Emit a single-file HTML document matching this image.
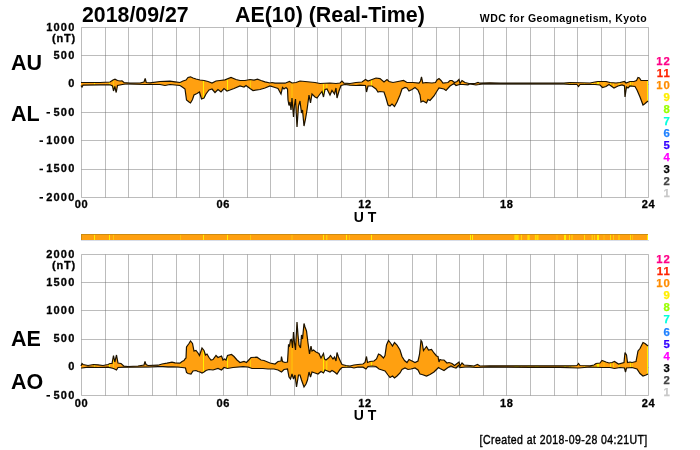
<!DOCTYPE html><html><head><meta charset="utf-8"><style>html,body{margin:0;padding:0;background:#fff;width:700px;height:450px;overflow:hidden}svg{position:absolute;left:0;top:0;will-change:transform}</style></head><body>
<svg width="700" height="450" viewBox="0 0 700 450">
<rect width="700" height="450" fill="#fff"/>
<path d="M81.5 27.5V197.5M105.5 27.5V197.5M128.5 27.5V197.5M152.5 27.5V197.5M176.5 27.5V197.5M199.5 27.5V197.5M223.5 27.5V197.5M247.5 27.5V197.5M270.5 27.5V197.5M294.5 27.5V197.5M317.5 27.5V197.5M341.5 27.5V197.5M365.5 27.5V197.5M388.5 27.5V197.5M412.5 27.5V197.5M436.5 27.5V197.5M459.5 27.5V197.5M483.5 27.5V197.5M506.5 27.5V197.5M530.5 27.5V197.5M554.5 27.5V197.5M577.5 27.5V197.5M601.5 27.5V197.5M625.5 27.5V197.5M648.5 27.5V197.5M81.5 27.5H648.5M81.5 55.5H648.5M81.5 84.5H648.5M81.5 112.5H648.5M81.5 140.5H648.5M81.5 169.5H648.5M81.5 197.5H648.5" stroke="#6a6a6a" stroke-opacity="0.45" stroke-width="1" fill="none"/>
<path d="M81.5 254.5V395.5M105.5 254.5V395.5M128.5 254.5V395.5M152.5 254.5V395.5M176.5 254.5V395.5M199.5 254.5V395.5M223.5 254.5V395.5M247.5 254.5V395.5M270.5 254.5V395.5M294.5 254.5V395.5M317.5 254.5V395.5M341.5 254.5V395.5M365.5 254.5V395.5M388.5 254.5V395.5M412.5 254.5V395.5M436.5 254.5V395.5M459.5 254.5V395.5M483.5 254.5V395.5M506.5 254.5V395.5M530.5 254.5V395.5M554.5 254.5V395.5M577.5 254.5V395.5M601.5 254.5V395.5M625.5 254.5V395.5M648.5 254.5V395.5M81.5 254.5H648.5M81.5 282.5H648.5M81.5 310.5H648.5M81.5 339.5H648.5M81.5 367.5H648.5M81.5 395.5H648.5" stroke="#6a6a6a" stroke-opacity="0.45" stroke-width="1" fill="none"/>
<defs>
<clipPath id="c1"><path d="M81,82.5 82,82.5 100,82.5 110,82 113,80 115,79.2 117.5,80.5 120,81 122,80.8 124,82.5 130,83.2 140,83 144,82 145.2,78.5 146.2,82.5 150,82.8 160,81.5 170,81.2 175,81.8 180,82.5 183,81 186,80 188,77.5 190.5,76.8 193,78 196,79 200,80 204,80.5 208,81.5 212,83 216,81 220,80.5 225,79.8 231,77.5 236,79.5 240,80.5 245,80.5 250,79.5 254,80.2 257.5,79.2 261,80.5 265,81.8 270,83 272,82.5 275,83.2 280,83.2 285,83.2 289.5,81.5 292,83 296,82.5 300,81 305,81.5 310,82 315,82.5 320,83.5 330,83 336,83.5 340,83 342,81 344,83.2 350,83.5 356,82.5 362,82 365.5,79.5 368,81 372,79.5 376,78 380,78.6 384,82 387,79.5 389,81.5 393,82.5 398,81.5 403.5,80.5 407,82.5 413,82.5 419,83 420.5,81 421.5,76.8 422.8,83 426,82.5 432,83 435.5,82.5 437,80 439,78.5 441,80.5 443,83.2 448,82.5 450,80.5 452,80.5 454.5,82.5 457,81.5 459,79.5 460,83.5 462,80.5 465,82.5 469,83.5 475,83.5 478,82.5 480,83.2 490,82.8 500,83.2 520,83.2 564,83 570,82.5 590,83 595,82 598,81.5 602,81.5 606,81.5 610,82.5 616,83 620,82.5 624.5,81.5 626,83 630,81.5 634,81.5 636.5,80.5 638,77.5 639.5,78 641,80.5 645,80.5 648,80.5 L648,101 644.5,104 643,105 640,97 637,90 635,86.5 630,86 628,88 626.5,87 625,97 624.5,86 622,85 618,86 614,88 609,84.5 606,86.5 602.5,87.5 600,85 595,84.5 590,84.5 580,84.5 578.5,86.5 577,84.5 570,84.5 564,83.8 520,83.8 482,83.8 479,84.5 476,85 470,83.8 468,84.8 463,84.5 459.5,84.5 456,85.5 454,83.5 450,86 446,90.5 444,89 439,88 437,91 434,96 430,100.5 428,99.5 426.5,103 423,101 421,102 420,95 418,90 415,87.5 412,89.5 409,91 407,88 405,87.5 402,89 400,95 397,102 394.5,106.5 392,104 390,106 388,105 386,98 384,92 380,91.5 378,92 376,89 372,86 368,86 366.5,92 365.5,85.5 360,85.2 356,85.5 350,85.2 345,84.5 341,85.5 339,91 337,98 336,88 334.5,94 332,90.5 330,95 327,89 325,89.5 323.5,97 322,91.5 320,94 317,98 315,97 312,94 310.5,103 309,95 307,110 305.5,119 304,126 302.5,110 301.5,113 300,101 298.5,106 297,127 295.5,99 294.5,105 293.5,117 292,98 291,110 290,102 289,105.5 288,100 287.5,89 286,87.5 284,89 282.5,87.5 281,94 278,88.5 275,87.5 270,86 265,88 260,89.5 253,90.5 250,88.5 246,85.5 244,87 240,86 234,88.5 230,90 227,91 224,88.5 221,92 218,89.5 215,92.5 212,89 209,90 206,94 204,98 201.5,99 199.5,92 197,93.5 194,95 192.5,99.5 190.5,103 189,102 186.5,100 185,89 183,87.5 180,85.5 170,84.5 165,85.5 160,84.5 145,84.5 130,84 125,84 117.5,85.5 116.2,92.5 114.8,86.5 113.5,91 112.5,86 110,84.8 100,84.8 83,85.2 82,87 81,85.5Z"/></clipPath>
<clipPath id="c2"><path d="M81,366 82,363.5 83,364.5 88,365.5 93.5,364.5 98,364.8 103,365.5 108,364.5 110,363.5 112,363.5 113.5,355.5 114.8,362 116.5,355 118,363 121,363.5 124,366.2 128,366.5 138,366 144,365 145,361.5 146,364.5 148,365.5 158,365.2 162,364 167,363.2 172,362.2 175,362.8 180,363.2 182,361.5 184,360.5 185,359 186,358 186.5,347 187.5,345.5 189,343.5 190.5,341 192.5,343.5 194,351 196,350.5 198,353 199.5,355.5 202,348 204,350.5 205.5,355 207,354 209,357.5 211,360 213,359.5 216,355.5 218,357.5 221.5,356 223,360 224.5,359 226,360 227.5,355.5 231.5,354.5 234,356.5 237,360 240,362.5 244,361.5 246.5,362.5 251,357.5 257,357.2 261,360 264,360.5 270,363 275,364 278,361.5 281,361 281.5,356.5 282.5,361.5 285,362.5 287.5,362 288,354 288.5,345 289.5,346 290.5,340 291.5,339.5 292.5,348 293.5,332 294.5,343 295.5,350 297,322 298,335 299,345 300.5,348 301.5,335 302.5,339 304,323.5 305,327 306.5,331 308,343 309.5,354 311,346 312,351 313.5,350 316,352 319,353.5 321,358 323.5,353.5 324.5,359 326,360 329,357.5 330.5,355.5 333,359 334.5,357 336,361 337,352.5 338.5,357 340.5,361.5 342,364.5 346,365.5 350,366 354,365 358,364.5 363,364 365,362.5 366.5,356.5 367.5,362.5 370,361.5 374,361 376.5,359 378.5,354 380.5,355 383.5,358 385,355.5 386.5,345 388.5,340.5 390.5,343 392.5,346 394.5,342.5 397,345 400,350 402,356.5 404.5,360.5 407,362.5 409,359.5 412,361 415,362.5 418,361 419.5,354.5 421,340.5 422,342 423.5,350.5 426.5,346.5 428.5,350 431.5,349.5 434,353 436.5,356 438,356.5 439,362 440,359.5 441.5,360 444,360 447,363 449,362.5 452,363.5 454.5,365.5 459,362 460,366 462,363 464,365 470,365.5 474,366 477.5,364.5 480,366 490,365.8 530,365.8 560,365.8 570,365.8 577,365.5 578.5,363.5 580,365.5 590,365.8 594,365 596,363.5 600,363 602,360.5 606,362 609,363 612,362.5 614.5,361.5 618.5,364 624,362.5 625,352.5 626.5,355 627.5,362.5 630,362 632,362.5 636,361.5 638,351 640,348.5 643,342.5 645,343.5 648,346 L648,374 646,375 643,376 640,373.5 637,369 632,367.5 626.5,368 625.5,372 624.5,368 620,367.5 614.5,368.5 610,367.5 602,367.5 590,367 578.5,368 560,367.3 530,367.3 490,366.8 476,367.5 470,366.8 465,367 460,367.5 458.5,365.5 456,368 454,367.5 451,366 448,367.5 444,370.5 440,368.5 438.5,367.5 436.5,369.5 434,372 430,374.5 426.5,376 422,374.5 420,374 418,370 415,368 411,369 408,369.5 405,368 402,369.5 400,373 397,376 394.5,378 392.5,376 390,377.5 388,375 385,371 382,370 379,369 376,366.5 372,366 368,366.5 366,369 363,367.2 358,367 354,368 350,367 342,367.5 340,369.5 337,374 334.5,372 332,370.5 330,372 325,370 323.5,373 321,371.5 318,374 315,373 312,372 310.5,377 309,372 307.5,380 306,384 304,387 301.5,380 300,375 298.5,375 296.5,387 295,375 293.5,379 292,374 290.5,379 289,377 287.5,369 284,369.5 281.5,372 278,370 274,369 268,369 263,368.5 258,368.5 252,368.5 248,367 243,366.5 238,367 233,367.5 227.5,368.5 224,367.5 221.5,370 218,368.5 213,370 209,369.5 206,370.5 204,372 202,373 200,372 198,371.5 196,370.5 193,371 191,374 188,373.5 186.5,372.5 185.5,368 182,367.5 178,367 173,366.8 168,366.8 163,366.5 158,366.5 148,367 124,367.2 118,367.5 116.5,370 113.5,368.5 108,367.2 98,367.5 88,367.2 82,368 81,368Z"/></clipPath>
</defs>
<path d="M81,82.5 82,82.5 100,82.5 110,82 113,80 115,79.2 117.5,80.5 120,81 122,80.8 124,82.5 130,83.2 140,83 144,82 145.2,78.5 146.2,82.5 150,82.8 160,81.5 170,81.2 175,81.8 180,82.5 183,81 186,80 188,77.5 190.5,76.8 193,78 196,79 200,80 204,80.5 208,81.5 212,83 216,81 220,80.5 225,79.8 231,77.5 236,79.5 240,80.5 245,80.5 250,79.5 254,80.2 257.5,79.2 261,80.5 265,81.8 270,83 272,82.5 275,83.2 280,83.2 285,83.2 289.5,81.5 292,83 296,82.5 300,81 305,81.5 310,82 315,82.5 320,83.5 330,83 336,83.5 340,83 342,81 344,83.2 350,83.5 356,82.5 362,82 365.5,79.5 368,81 372,79.5 376,78 380,78.6 384,82 387,79.5 389,81.5 393,82.5 398,81.5 403.5,80.5 407,82.5 413,82.5 419,83 420.5,81 421.5,76.8 422.8,83 426,82.5 432,83 435.5,82.5 437,80 439,78.5 441,80.5 443,83.2 448,82.5 450,80.5 452,80.5 454.5,82.5 457,81.5 459,79.5 460,83.5 462,80.5 465,82.5 469,83.5 475,83.5 478,82.5 480,83.2 490,82.8 500,83.2 520,83.2 564,83 570,82.5 590,83 595,82 598,81.5 602,81.5 606,81.5 610,82.5 616,83 620,82.5 624.5,81.5 626,83 630,81.5 634,81.5 636.5,80.5 638,77.5 639.5,78 641,80.5 645,80.5 648,80.5 L648,101 644.5,104 643,105 640,97 637,90 635,86.5 630,86 628,88 626.5,87 625,97 624.5,86 622,85 618,86 614,88 609,84.5 606,86.5 602.5,87.5 600,85 595,84.5 590,84.5 580,84.5 578.5,86.5 577,84.5 570,84.5 564,83.8 520,83.8 482,83.8 479,84.5 476,85 470,83.8 468,84.8 463,84.5 459.5,84.5 456,85.5 454,83.5 450,86 446,90.5 444,89 439,88 437,91 434,96 430,100.5 428,99.5 426.5,103 423,101 421,102 420,95 418,90 415,87.5 412,89.5 409,91 407,88 405,87.5 402,89 400,95 397,102 394.5,106.5 392,104 390,106 388,105 386,98 384,92 380,91.5 378,92 376,89 372,86 368,86 366.5,92 365.5,85.5 360,85.2 356,85.5 350,85.2 345,84.5 341,85.5 339,91 337,98 336,88 334.5,94 332,90.5 330,95 327,89 325,89.5 323.5,97 322,91.5 320,94 317,98 315,97 312,94 310.5,103 309,95 307,110 305.5,119 304,126 302.5,110 301.5,113 300,101 298.5,106 297,127 295.5,99 294.5,105 293.5,117 292,98 291,110 290,102 289,105.5 288,100 287.5,89 286,87.5 284,89 282.5,87.5 281,94 278,88.5 275,87.5 270,86 265,88 260,89.5 253,90.5 250,88.5 246,85.5 244,87 240,86 234,88.5 230,90 227,91 224,88.5 221,92 218,89.5 215,92.5 212,89 209,90 206,94 204,98 201.5,99 199.5,92 197,93.5 194,95 192.5,99.5 190.5,103 189,102 186.5,100 185,89 183,87.5 180,85.5 170,84.5 165,85.5 160,84.5 145,84.5 130,84 125,84 117.5,85.5 116.2,92.5 114.8,86.5 113.5,91 112.5,86 110,84.8 100,84.8 83,85.2 82,87 81,85.5Z" fill="#ffa010"/>
<g clip-path="url(#c1)"><rect x="94" y="60" width="1" height="80" fill="#fff000" opacity="1"/><rect x="109" y="60" width="1" height="80" fill="#fff000" opacity="1"/><rect x="113" y="60" width="1" height="80" fill="#fff000" opacity="0.5"/><rect x="180" y="60" width="1" height="80" fill="#fff000" opacity="0.4"/><rect x="203" y="60" width="1" height="80" fill="#fff000" opacity="1"/><rect x="227" y="60" width="1" height="80" fill="#fff000" opacity="1"/><rect x="250" y="60" width="1" height="80" fill="#fff000" opacity="0.5"/><rect x="291.5" y="60" width="1" height="80" fill="#fff000" opacity="0.5"/><rect x="323" y="60" width="1" height="80" fill="#fff000" opacity="1"/><rect x="326.3" y="60" width="1" height="80" fill="#fff000" opacity="0.8"/><rect x="346" y="60" width="1" height="80" fill="#fff000" opacity="1"/><rect x="349" y="60" width="1" height="80" fill="#fff000" opacity="0.4"/><rect x="371" y="60" width="1" height="80" fill="#fff000" opacity="1"/><rect x="470" y="60" width="1" height="80" fill="#fff000" opacity="1"/><rect x="472" y="60" width="1" height="80" fill="#fff000" opacity="1"/><rect x="514.5" y="60" width="1" height="80" fill="#fff000" opacity="1"/><rect x="515.5" y="60" width="1" height="80" fill="#fff000" opacity="1"/><rect x="516.5" y="60" width="1" height="80" fill="#fff000" opacity="1"/><rect x="517.5" y="60" width="1" height="80" fill="#fff000" opacity="1"/><rect x="520.9" y="60" width="1" height="80" fill="#fff000" opacity="0.8"/><rect x="527.5" y="60" width="1" height="80" fill="#fff000" opacity="1"/><rect x="528.5" y="60" width="1" height="80" fill="#fff000" opacity="1"/><rect x="534.9" y="60" width="1" height="80" fill="#fff000" opacity="0.8"/><rect x="536.5" y="60" width="1" height="80" fill="#fff000" opacity="1"/><rect x="537.5" y="60" width="1" height="80" fill="#fff000" opacity="0.8"/><rect x="556.5" y="60" width="1" height="80" fill="#fff000" opacity="0.4"/><rect x="564" y="60" width="1" height="80" fill="#fff000" opacity="1"/><rect x="565" y="60" width="1" height="80" fill="#fff000" opacity="1"/><rect x="569" y="60" width="1" height="80" fill="#fff000" opacity="0.8"/><rect x="571.5" y="60" width="1" height="80" fill="#fff000" opacity="0.8"/><rect x="584" y="60" width="1" height="80" fill="#fff000" opacity="0.8"/><rect x="591.7" y="60" width="1" height="80" fill="#fff000" opacity="0.8"/><rect x="594" y="60" width="1" height="80" fill="#fff000" opacity="0.6"/><rect x="597" y="60" width="1" height="80" fill="#fff000" opacity="1"/><rect x="598" y="60" width="1" height="80" fill="#fff000" opacity="1"/><rect x="603.5" y="60" width="1" height="80" fill="#fff000" opacity="0.4"/><rect x="610" y="60" width="1" height="80" fill="#fff000" opacity="0.8"/><rect x="613" y="60" width="1" height="80" fill="#fff000" opacity="0.6"/><rect x="618.5" y="60" width="1" height="80" fill="#fff000" opacity="0.8"/><rect x="630" y="60" width="1" height="80" fill="#fff000" opacity="0.8"/><rect x="632" y="60" width="1" height="80" fill="#fff000" opacity="0.4"/><rect x="647" y="60" width="1" height="80" fill="#fff000" opacity="1"/></g>
<polyline points="81,82.5 82,82.5 100,82.5 110,82 113,80 115,79.2 117.5,80.5 120,81 122,80.8 124,82.5 130,83.2 140,83 144,82 145.2,78.5 146.2,82.5 150,82.8 160,81.5 170,81.2 175,81.8 180,82.5 183,81 186,80 188,77.5 190.5,76.8 193,78 196,79 200,80 204,80.5 208,81.5 212,83 216,81 220,80.5 225,79.8 231,77.5 236,79.5 240,80.5 245,80.5 250,79.5 254,80.2 257.5,79.2 261,80.5 265,81.8 270,83 272,82.5 275,83.2 280,83.2 285,83.2 289.5,81.5 292,83 296,82.5 300,81 305,81.5 310,82 315,82.5 320,83.5 330,83 336,83.5 340,83 342,81 344,83.2 350,83.5 356,82.5 362,82 365.5,79.5 368,81 372,79.5 376,78 380,78.6 384,82 387,79.5 389,81.5 393,82.5 398,81.5 403.5,80.5 407,82.5 413,82.5 419,83 420.5,81 421.5,76.8 422.8,83 426,82.5 432,83 435.5,82.5 437,80 439,78.5 441,80.5 443,83.2 448,82.5 450,80.5 452,80.5 454.5,82.5 457,81.5 459,79.5 460,83.5 462,80.5 465,82.5 469,83.5 475,83.5 478,82.5 480,83.2 490,82.8 500,83.2 520,83.2 564,83 570,82.5 590,83 595,82 598,81.5 602,81.5 606,81.5 610,82.5 616,83 620,82.5 624.5,81.5 626,83 630,81.5 634,81.5 636.5,80.5 638,77.5 639.5,78 641,80.5 645,80.5 648,80.5" fill="none" stroke="#1c1200" stroke-width="1.2" stroke-linejoin="miter" stroke-miterlimit="3"/>
<polyline points="81,85.5 82,87 83,85.2 100,84.8 110,84.8 112.5,86 113.5,91 114.8,86.5 116.2,92.5 117.5,85.5 125,84 130,84 145,84.5 160,84.5 165,85.5 170,84.5 180,85.5 183,87.5 185,89 186.5,100 189,102 190.5,103 192.5,99.5 194,95 197,93.5 199.5,92 201.5,99 204,98 206,94 209,90 212,89 215,92.5 218,89.5 221,92 224,88.5 227,91 230,90 234,88.5 240,86 244,87 246,85.5 250,88.5 253,90.5 260,89.5 265,88 270,86 275,87.5 278,88.5 281,94 282.5,87.5 284,89 286,87.5 287.5,89 288,100 289,105.5 290,102 291,110 292,98 293.5,117 294.5,105 295.5,99 297,127 298.5,106 300,101 301.5,113 302.5,110 304,126 305.5,119 307,110 309,95 310.5,103 312,94 315,97 317,98 320,94 322,91.5 323.5,97 325,89.5 327,89 330,95 332,90.5 334.5,94 336,88 337,98 339,91 341,85.5 345,84.5 350,85.2 356,85.5 360,85.2 365.5,85.5 366.5,92 368,86 372,86 376,89 378,92 380,91.5 384,92 386,98 388,105 390,106 392,104 394.5,106.5 397,102 400,95 402,89 405,87.5 407,88 409,91 412,89.5 415,87.5 418,90 420,95 421,102 423,101 426.5,103 428,99.5 430,100.5 434,96 437,91 439,88 444,89 446,90.5 450,86 454,83.5 456,85.5 459.5,84.5 463,84.5 468,84.8 470,83.8 476,85 479,84.5 482,83.8 520,83.8 564,83.8 570,84.5 577,84.5 578.5,86.5 580,84.5 590,84.5 595,84.5 600,85 602.5,87.5 606,86.5 609,84.5 614,88 618,86 622,85 624.5,86 625,97 626.5,87 628,88 630,86 635,86.5 637,90 640,97 643,105 644.5,104 648,101" fill="none" stroke="#1c1200" stroke-width="1.2" stroke-linejoin="miter" stroke-miterlimit="3"/>
<path d="M81,366 82,363.5 83,364.5 88,365.5 93.5,364.5 98,364.8 103,365.5 108,364.5 110,363.5 112,363.5 113.5,355.5 114.8,362 116.5,355 118,363 121,363.5 124,366.2 128,366.5 138,366 144,365 145,361.5 146,364.5 148,365.5 158,365.2 162,364 167,363.2 172,362.2 175,362.8 180,363.2 182,361.5 184,360.5 185,359 186,358 186.5,347 187.5,345.5 189,343.5 190.5,341 192.5,343.5 194,351 196,350.5 198,353 199.5,355.5 202,348 204,350.5 205.5,355 207,354 209,357.5 211,360 213,359.5 216,355.5 218,357.5 221.5,356 223,360 224.5,359 226,360 227.5,355.5 231.5,354.5 234,356.5 237,360 240,362.5 244,361.5 246.5,362.5 251,357.5 257,357.2 261,360 264,360.5 270,363 275,364 278,361.5 281,361 281.5,356.5 282.5,361.5 285,362.5 287.5,362 288,354 288.5,345 289.5,346 290.5,340 291.5,339.5 292.5,348 293.5,332 294.5,343 295.5,350 297,322 298,335 299,345 300.5,348 301.5,335 302.5,339 304,323.5 305,327 306.5,331 308,343 309.5,354 311,346 312,351 313.5,350 316,352 319,353.5 321,358 323.5,353.5 324.5,359 326,360 329,357.5 330.5,355.5 333,359 334.5,357 336,361 337,352.5 338.5,357 340.5,361.5 342,364.5 346,365.5 350,366 354,365 358,364.5 363,364 365,362.5 366.5,356.5 367.5,362.5 370,361.5 374,361 376.5,359 378.5,354 380.5,355 383.5,358 385,355.5 386.5,345 388.5,340.5 390.5,343 392.5,346 394.5,342.5 397,345 400,350 402,356.5 404.5,360.5 407,362.5 409,359.5 412,361 415,362.5 418,361 419.5,354.5 421,340.5 422,342 423.5,350.5 426.5,346.5 428.5,350 431.5,349.5 434,353 436.5,356 438,356.5 439,362 440,359.5 441.5,360 444,360 447,363 449,362.5 452,363.5 454.5,365.5 459,362 460,366 462,363 464,365 470,365.5 474,366 477.5,364.5 480,366 490,365.8 530,365.8 560,365.8 570,365.8 577,365.5 578.5,363.5 580,365.5 590,365.8 594,365 596,363.5 600,363 602,360.5 606,362 609,363 612,362.5 614.5,361.5 618.5,364 624,362.5 625,352.5 626.5,355 627.5,362.5 630,362 632,362.5 636,361.5 638,351 640,348.5 643,342.5 645,343.5 648,346 L648,374 646,375 643,376 640,373.5 637,369 632,367.5 626.5,368 625.5,372 624.5,368 620,367.5 614.5,368.5 610,367.5 602,367.5 590,367 578.5,368 560,367.3 530,367.3 490,366.8 476,367.5 470,366.8 465,367 460,367.5 458.5,365.5 456,368 454,367.5 451,366 448,367.5 444,370.5 440,368.5 438.5,367.5 436.5,369.5 434,372 430,374.5 426.5,376 422,374.5 420,374 418,370 415,368 411,369 408,369.5 405,368 402,369.5 400,373 397,376 394.5,378 392.5,376 390,377.5 388,375 385,371 382,370 379,369 376,366.5 372,366 368,366.5 366,369 363,367.2 358,367 354,368 350,367 342,367.5 340,369.5 337,374 334.5,372 332,370.5 330,372 325,370 323.5,373 321,371.5 318,374 315,373 312,372 310.5,377 309,372 307.5,380 306,384 304,387 301.5,380 300,375 298.5,375 296.5,387 295,375 293.5,379 292,374 290.5,379 289,377 287.5,369 284,369.5 281.5,372 278,370 274,369 268,369 263,368.5 258,368.5 252,368.5 248,367 243,366.5 238,367 233,367.5 227.5,368.5 224,367.5 221.5,370 218,368.5 213,370 209,369.5 206,370.5 204,372 202,373 200,372 198,371.5 196,370.5 193,371 191,374 188,373.5 186.5,372.5 185.5,368 182,367.5 178,367 173,366.8 168,366.8 163,366.5 158,366.5 148,367 124,367.2 118,367.5 116.5,370 113.5,368.5 108,367.2 98,367.5 88,367.2 82,368 81,368Z" fill="#ffa010"/>
<g clip-path="url(#c2)"><rect x="94" y="310" width="1" height="90" fill="#fff000" opacity="1"/><rect x="109" y="310" width="1" height="90" fill="#fff000" opacity="1"/><rect x="113" y="310" width="1" height="90" fill="#fff000" opacity="0.5"/><rect x="180" y="310" width="1" height="90" fill="#fff000" opacity="0.4"/><rect x="203" y="310" width="1" height="90" fill="#fff000" opacity="1"/><rect x="227" y="310" width="1" height="90" fill="#fff000" opacity="1"/><rect x="250" y="310" width="1" height="90" fill="#fff000" opacity="0.5"/><rect x="291.5" y="310" width="1" height="90" fill="#fff000" opacity="0.5"/><rect x="323" y="310" width="1" height="90" fill="#fff000" opacity="1"/><rect x="326.3" y="310" width="1" height="90" fill="#fff000" opacity="0.8"/><rect x="346" y="310" width="1" height="90" fill="#fff000" opacity="1"/><rect x="349" y="310" width="1" height="90" fill="#fff000" opacity="0.4"/><rect x="371" y="310" width="1" height="90" fill="#fff000" opacity="1"/><rect x="470" y="310" width="1" height="90" fill="#fff000" opacity="1"/><rect x="472" y="310" width="1" height="90" fill="#fff000" opacity="1"/><rect x="514.5" y="310" width="1" height="90" fill="#fff000" opacity="1"/><rect x="515.5" y="310" width="1" height="90" fill="#fff000" opacity="1"/><rect x="516.5" y="310" width="1" height="90" fill="#fff000" opacity="1"/><rect x="517.5" y="310" width="1" height="90" fill="#fff000" opacity="1"/><rect x="520.9" y="310" width="1" height="90" fill="#fff000" opacity="0.8"/><rect x="527.5" y="310" width="1" height="90" fill="#fff000" opacity="1"/><rect x="528.5" y="310" width="1" height="90" fill="#fff000" opacity="1"/><rect x="534.9" y="310" width="1" height="90" fill="#fff000" opacity="0.8"/><rect x="536.5" y="310" width="1" height="90" fill="#fff000" opacity="1"/><rect x="537.5" y="310" width="1" height="90" fill="#fff000" opacity="0.8"/><rect x="556.5" y="310" width="1" height="90" fill="#fff000" opacity="0.4"/><rect x="564" y="310" width="1" height="90" fill="#fff000" opacity="1"/><rect x="565" y="310" width="1" height="90" fill="#fff000" opacity="1"/><rect x="569" y="310" width="1" height="90" fill="#fff000" opacity="0.8"/><rect x="571.5" y="310" width="1" height="90" fill="#fff000" opacity="0.8"/><rect x="584" y="310" width="1" height="90" fill="#fff000" opacity="0.8"/><rect x="591.7" y="310" width="1" height="90" fill="#fff000" opacity="0.8"/><rect x="594" y="310" width="1" height="90" fill="#fff000" opacity="0.6"/><rect x="597" y="310" width="1" height="90" fill="#fff000" opacity="1"/><rect x="598" y="310" width="1" height="90" fill="#fff000" opacity="1"/><rect x="603.5" y="310" width="1" height="90" fill="#fff000" opacity="0.4"/><rect x="610" y="310" width="1" height="90" fill="#fff000" opacity="0.8"/><rect x="613" y="310" width="1" height="90" fill="#fff000" opacity="0.6"/><rect x="618.5" y="310" width="1" height="90" fill="#fff000" opacity="0.8"/><rect x="630" y="310" width="1" height="90" fill="#fff000" opacity="0.8"/><rect x="632" y="310" width="1" height="90" fill="#fff000" opacity="0.4"/><rect x="647" y="310" width="1" height="90" fill="#fff000" opacity="1"/></g>
<polyline points="81,366 82,363.5 83,364.5 88,365.5 93.5,364.5 98,364.8 103,365.5 108,364.5 110,363.5 112,363.5 113.5,355.5 114.8,362 116.5,355 118,363 121,363.5 124,366.2 128,366.5 138,366 144,365 145,361.5 146,364.5 148,365.5 158,365.2 162,364 167,363.2 172,362.2 175,362.8 180,363.2 182,361.5 184,360.5 185,359 186,358 186.5,347 187.5,345.5 189,343.5 190.5,341 192.5,343.5 194,351 196,350.5 198,353 199.5,355.5 202,348 204,350.5 205.5,355 207,354 209,357.5 211,360 213,359.5 216,355.5 218,357.5 221.5,356 223,360 224.5,359 226,360 227.5,355.5 231.5,354.5 234,356.5 237,360 240,362.5 244,361.5 246.5,362.5 251,357.5 257,357.2 261,360 264,360.5 270,363 275,364 278,361.5 281,361 281.5,356.5 282.5,361.5 285,362.5 287.5,362 288,354 288.5,345 289.5,346 290.5,340 291.5,339.5 292.5,348 293.5,332 294.5,343 295.5,350 297,322 298,335 299,345 300.5,348 301.5,335 302.5,339 304,323.5 305,327 306.5,331 308,343 309.5,354 311,346 312,351 313.5,350 316,352 319,353.5 321,358 323.5,353.5 324.5,359 326,360 329,357.5 330.5,355.5 333,359 334.5,357 336,361 337,352.5 338.5,357 340.5,361.5 342,364.5 346,365.5 350,366 354,365 358,364.5 363,364 365,362.5 366.5,356.5 367.5,362.5 370,361.5 374,361 376.5,359 378.5,354 380.5,355 383.5,358 385,355.5 386.5,345 388.5,340.5 390.5,343 392.5,346 394.5,342.5 397,345 400,350 402,356.5 404.5,360.5 407,362.5 409,359.5 412,361 415,362.5 418,361 419.5,354.5 421,340.5 422,342 423.5,350.5 426.5,346.5 428.5,350 431.5,349.5 434,353 436.5,356 438,356.5 439,362 440,359.5 441.5,360 444,360 447,363 449,362.5 452,363.5 454.5,365.5 459,362 460,366 462,363 464,365 470,365.5 474,366 477.5,364.5 480,366 490,365.8 530,365.8 560,365.8 570,365.8 577,365.5 578.5,363.5 580,365.5 590,365.8 594,365 596,363.5 600,363 602,360.5 606,362 609,363 612,362.5 614.5,361.5 618.5,364 624,362.5 625,352.5 626.5,355 627.5,362.5 630,362 632,362.5 636,361.5 638,351 640,348.5 643,342.5 645,343.5 648,346" fill="none" stroke="#1c1200" stroke-width="1.2" stroke-linejoin="miter" stroke-miterlimit="3"/>
<polyline points="81,368 82,368 88,367.2 98,367.5 108,367.2 113.5,368.5 116.5,370 118,367.5 124,367.2 148,367 158,366.5 163,366.5 168,366.8 173,366.8 178,367 182,367.5 185.5,368 186.5,372.5 188,373.5 191,374 193,371 196,370.5 198,371.5 200,372 202,373 204,372 206,370.5 209,369.5 213,370 218,368.5 221.5,370 224,367.5 227.5,368.5 233,367.5 238,367 243,366.5 248,367 252,368.5 258,368.5 263,368.5 268,369 274,369 278,370 281.5,372 284,369.5 287.5,369 289,377 290.5,379 292,374 293.5,379 295,375 296.5,387 298.5,375 300,375 301.5,380 304,387 306,384 307.5,380 309,372 310.5,377 312,372 315,373 318,374 321,371.5 323.5,373 325,370 330,372 332,370.5 334.5,372 337,374 340,369.5 342,367.5 350,367 354,368 358,367 363,367.2 366,369 368,366.5 372,366 376,366.5 379,369 382,370 385,371 388,375 390,377.5 392.5,376 394.5,378 397,376 400,373 402,369.5 405,368 408,369.5 411,369 415,368 418,370 420,374 422,374.5 426.5,376 430,374.5 434,372 436.5,369.5 438.5,367.5 440,368.5 444,370.5 448,367.5 451,366 454,367.5 456,368 458.5,365.5 460,367.5 465,367 470,366.8 476,367.5 490,366.8 530,367.3 560,367.3 578.5,368 590,367 602,367.5 610,367.5 614.5,368.5 620,367.5 624.5,368 625.5,372 626.5,368 632,367.5 637,369 640,373.5 643,376 646,375 648,374" fill="none" stroke="#1c1200" stroke-width="1.2" stroke-linejoin="miter" stroke-miterlimit="3"/>
<rect x="81" y="234" width="567" height="6" fill="#ffa010"/>
<g><rect x="94" y="234" width="1" height="6" fill="#fff000" opacity="1"/><rect x="109" y="234" width="1" height="6" fill="#fff000" opacity="1"/><rect x="113" y="234" width="1" height="6" fill="#fff000" opacity="0.5"/><rect x="180" y="234" width="1" height="6" fill="#fff000" opacity="0.4"/><rect x="203" y="234" width="1" height="6" fill="#fff000" opacity="1"/><rect x="227" y="234" width="1" height="6" fill="#fff000" opacity="1"/><rect x="250" y="234" width="1" height="6" fill="#fff000" opacity="0.5"/><rect x="291.5" y="234" width="1" height="6" fill="#fff000" opacity="0.5"/><rect x="323" y="234" width="1" height="6" fill="#fff000" opacity="1"/><rect x="326.3" y="234" width="1" height="6" fill="#fff000" opacity="0.8"/><rect x="346" y="234" width="1" height="6" fill="#fff000" opacity="1"/><rect x="349" y="234" width="1" height="6" fill="#fff000" opacity="0.4"/><rect x="371" y="234" width="1" height="6" fill="#fff000" opacity="1"/><rect x="470" y="234" width="1" height="6" fill="#fff000" opacity="1"/><rect x="472" y="234" width="1" height="6" fill="#fff000" opacity="1"/><rect x="514.5" y="234" width="1" height="6" fill="#fff000" opacity="1"/><rect x="515.5" y="234" width="1" height="6" fill="#fff000" opacity="1"/><rect x="516.5" y="234" width="1" height="6" fill="#fff000" opacity="1"/><rect x="517.5" y="234" width="1" height="6" fill="#fff000" opacity="1"/><rect x="520.9" y="234" width="1" height="6" fill="#fff000" opacity="0.8"/><rect x="527.5" y="234" width="1" height="6" fill="#fff000" opacity="1"/><rect x="528.5" y="234" width="1" height="6" fill="#fff000" opacity="1"/><rect x="534.9" y="234" width="1" height="6" fill="#fff000" opacity="0.8"/><rect x="536.5" y="234" width="1" height="6" fill="#fff000" opacity="1"/><rect x="537.5" y="234" width="1" height="6" fill="#fff000" opacity="0.8"/><rect x="556.5" y="234" width="1" height="6" fill="#fff000" opacity="0.4"/><rect x="564" y="234" width="1" height="6" fill="#fff000" opacity="1"/><rect x="565" y="234" width="1" height="6" fill="#fff000" opacity="1"/><rect x="569" y="234" width="1" height="6" fill="#fff000" opacity="0.8"/><rect x="571.5" y="234" width="1" height="6" fill="#fff000" opacity="0.8"/><rect x="584" y="234" width="1" height="6" fill="#fff000" opacity="0.8"/><rect x="591.7" y="234" width="1" height="6" fill="#fff000" opacity="0.8"/><rect x="594" y="234" width="1" height="6" fill="#fff000" opacity="0.6"/><rect x="597" y="234" width="1" height="6" fill="#fff000" opacity="1"/><rect x="598" y="234" width="1" height="6" fill="#fff000" opacity="1"/><rect x="603.5" y="234" width="1" height="6" fill="#fff000" opacity="0.4"/><rect x="610" y="234" width="1" height="6" fill="#fff000" opacity="0.8"/><rect x="613" y="234" width="1" height="6" fill="#fff000" opacity="0.6"/><rect x="618.5" y="234" width="1" height="6" fill="#fff000" opacity="0.8"/><rect x="630" y="234" width="1" height="6" fill="#fff000" opacity="0.8"/><rect x="632" y="234" width="1" height="6" fill="#fff000" opacity="0.4"/><rect x="647" y="234" width="1" height="6" fill="#fff000" opacity="1"/></g>
<rect x="81" y="234" width="567" height="1" fill="#c88a10" opacity="0.9"/>
<rect x="81" y="234" width="1" height="6" fill="#c88a10" opacity="0.9"/>
<rect x="81" y="240" width="568" height="1" fill="#d8dde8"/>
<text x="82" y="22" font-family="Liberation Sans" font-weight="bold" font-size="21.3">2018/09/27</text>
<text x="235" y="22" font-family="Liberation Sans" font-weight="bold" font-size="21.4">AE(10) (Real-Time)</text>
<text x="647" y="22" font-family="Liberation Sans" font-weight="bold" font-size="10.5" letter-spacing="0.4" text-anchor="end">WDC for Geomagnetism, Kyoto</text>
<text x="11" y="70" font-family="Liberation Sans" font-weight="bold" font-size="21.5">AU</text>
<text x="11" y="120.5" font-family="Liberation Sans" font-weight="bold" font-size="21.5">AL</text>
<text x="11" y="346" font-family="Liberation Sans" font-weight="bold" font-size="21.5">AE</text>
<text x="11" y="388.5" font-family="Liberation Sans" font-weight="bold" font-size="21.5">AO</text>
<text x="75.5" y="30.60" font-family="Liberation Sans" font-weight="bold" font-size="11" letter-spacing="1.2" text-anchor="end" stroke="#000" stroke-width="0.3">1000</text>
<text x="75.5" y="58.93" font-family="Liberation Sans" font-weight="bold" font-size="11" letter-spacing="1.2" text-anchor="end" stroke="#000" stroke-width="0.3">500</text>
<text x="75.5" y="87.27" font-family="Liberation Sans" font-weight="bold" font-size="11" letter-spacing="1.2" text-anchor="end" stroke="#000" stroke-width="0.3">0</text>
<text x="75.5" y="115.60" font-family="Liberation Sans" font-weight="bold" font-size="11" letter-spacing="1.2" text-anchor="end" stroke="#000" stroke-width="0.3">500</text>
<rect x="46.50" y="112.00" width="3.5" height="1.6" fill="#000"/>
<text x="75.5" y="143.93" font-family="Liberation Sans" font-weight="bold" font-size="11" letter-spacing="1.2" text-anchor="end" stroke="#000" stroke-width="0.3">1000</text>
<rect x="39.50" y="140.33" width="3.5" height="1.6" fill="#000"/>
<text x="75.5" y="172.27" font-family="Liberation Sans" font-weight="bold" font-size="11" letter-spacing="1.2" text-anchor="end" stroke="#000" stroke-width="0.3">1500</text>
<rect x="39.50" y="168.67" width="3.5" height="1.6" fill="#000"/>
<text x="75.5" y="200.60" font-family="Liberation Sans" font-weight="bold" font-size="11" letter-spacing="1.2" text-anchor="end" stroke="#000" stroke-width="0.3">2000</text>
<rect x="39.50" y="197.00" width="3.5" height="1.6" fill="#000"/>
<text x="76" y="42.00" font-family="Liberation Sans" font-weight="bold" font-size="11" letter-spacing="0.8" text-anchor="end" stroke="#000" stroke-width="0.3">(nT)</text>
<text x="75.5" y="257.60" font-family="Liberation Sans" font-weight="bold" font-size="11" letter-spacing="1.2" text-anchor="end" stroke="#000" stroke-width="0.3">2000</text>
<text x="75.5" y="285.80" font-family="Liberation Sans" font-weight="bold" font-size="11" letter-spacing="1.2" text-anchor="end" stroke="#000" stroke-width="0.3">1500</text>
<text x="75.5" y="314.00" font-family="Liberation Sans" font-weight="bold" font-size="11" letter-spacing="1.2" text-anchor="end" stroke="#000" stroke-width="0.3">1000</text>
<text x="75.5" y="342.20" font-family="Liberation Sans" font-weight="bold" font-size="11" letter-spacing="1.2" text-anchor="end" stroke="#000" stroke-width="0.3">500</text>
<text x="75.5" y="370.40" font-family="Liberation Sans" font-weight="bold" font-size="11" letter-spacing="1.2" text-anchor="end" stroke="#000" stroke-width="0.3">0</text>
<text x="75.5" y="398.60" font-family="Liberation Sans" font-weight="bold" font-size="11" letter-spacing="1.2" text-anchor="end" stroke="#000" stroke-width="0.3">500</text>
<rect x="46.50" y="395.00" width="3.5" height="1.6" fill="#000"/>
<text x="76" y="269.00" font-family="Liberation Sans" font-weight="bold" font-size="11" letter-spacing="0.8" text-anchor="end" stroke="#000" stroke-width="0.3">(nT)</text>
<text x="81.50" y="207.9" font-family="Liberation Sans" font-weight="bold" font-size="11" letter-spacing="0.6" text-anchor="middle" stroke="#000" stroke-width="0.3">00</text>
<text x="223.25" y="207.9" font-family="Liberation Sans" font-weight="bold" font-size="11" letter-spacing="0.6" text-anchor="middle" stroke="#000" stroke-width="0.3">06</text>
<text x="365.00" y="207.9" font-family="Liberation Sans" font-weight="bold" font-size="11" letter-spacing="0.6" text-anchor="middle" stroke="#000" stroke-width="0.3">12</text>
<text x="506.75" y="207.9" font-family="Liberation Sans" font-weight="bold" font-size="11" letter-spacing="0.6" text-anchor="middle" stroke="#000" stroke-width="0.3">18</text>
<text x="648.50" y="207.9" font-family="Liberation Sans" font-weight="bold" font-size="11" letter-spacing="0.6" text-anchor="middle" stroke="#000" stroke-width="0.3">24</text>
<text x="365" y="221.8" font-family="Liberation Sans" font-weight="bold" font-size="14" text-anchor="middle">U T</text>
<text x="81.50" y="406.9" font-family="Liberation Sans" font-weight="bold" font-size="11" letter-spacing="0.6" text-anchor="middle" stroke="#000" stroke-width="0.3">00</text>
<text x="223.25" y="406.9" font-family="Liberation Sans" font-weight="bold" font-size="11" letter-spacing="0.6" text-anchor="middle" stroke="#000" stroke-width="0.3">06</text>
<text x="365.00" y="406.9" font-family="Liberation Sans" font-weight="bold" font-size="11" letter-spacing="0.6" text-anchor="middle" stroke="#000" stroke-width="0.3">12</text>
<text x="506.75" y="406.9" font-family="Liberation Sans" font-weight="bold" font-size="11" letter-spacing="0.6" text-anchor="middle" stroke="#000" stroke-width="0.3">18</text>
<text x="648.50" y="406.9" font-family="Liberation Sans" font-weight="bold" font-size="11" letter-spacing="0.6" text-anchor="middle" stroke="#000" stroke-width="0.3">24</text>
<text x="365" y="420" font-family="Liberation Sans" font-weight="bold" font-size="14" text-anchor="middle">U T</text>
<text x="670.6" y="65.40" font-family="Liberation Sans" font-weight="bold" font-size="11.3" letter-spacing="0.9" text-anchor="end" fill="#ff0088" stroke="#ff0088" stroke-width="0.25">12</text>
<text x="670.6" y="77.40" font-family="Liberation Sans" font-weight="bold" font-size="11.3" letter-spacing="0.9" text-anchor="end" fill="#ff2200" stroke="#ff2200" stroke-width="0.25">11</text>
<text x="670.6" y="89.40" font-family="Liberation Sans" font-weight="bold" font-size="11.3" letter-spacing="0.9" text-anchor="end" fill="#ff8c00" stroke="#ff8c00" stroke-width="0.25">10</text>
<text x="670.6" y="101.40" font-family="Liberation Sans" font-weight="bold" font-size="11.3" letter-spacing="0.9" text-anchor="end" fill="#ffee00" stroke="#ffee00" stroke-width="0.25">9</text>
<text x="670.6" y="113.40" font-family="Liberation Sans" font-weight="bold" font-size="11.3" letter-spacing="0.9" text-anchor="end" fill="#99ff00" stroke="#99ff00" stroke-width="0.25">8</text>
<text x="670.6" y="125.40" font-family="Liberation Sans" font-weight="bold" font-size="11.3" letter-spacing="0.9" text-anchor="end" fill="#00ffdd" stroke="#00ffdd" stroke-width="0.25">7</text>
<text x="670.6" y="137.40" font-family="Liberation Sans" font-weight="bold" font-size="11.3" letter-spacing="0.9" text-anchor="end" fill="#1e80ff" stroke="#1e80ff" stroke-width="0.25">6</text>
<text x="670.6" y="149.40" font-family="Liberation Sans" font-weight="bold" font-size="11.3" letter-spacing="0.9" text-anchor="end" fill="#3300ff" stroke="#3300ff" stroke-width="0.25">5</text>
<text x="670.6" y="161.40" font-family="Liberation Sans" font-weight="bold" font-size="11.3" letter-spacing="0.9" text-anchor="end" fill="#ff00ff" stroke="#ff00ff" stroke-width="0.25">4</text>
<text x="670.6" y="173.40" font-family="Liberation Sans" font-weight="bold" font-size="11.3" letter-spacing="0.9" text-anchor="end" fill="#000000" stroke="#000000" stroke-width="0.25">3</text>
<text x="670.6" y="185.40" font-family="Liberation Sans" font-weight="bold" font-size="11.3" letter-spacing="0.9" text-anchor="end" fill="#444444" stroke="#444444" stroke-width="0.25">2</text>
<text x="670.6" y="197.40" font-family="Liberation Sans" font-weight="bold" font-size="11.3" letter-spacing="0.9" text-anchor="end" fill="#c8c8c8" stroke="#c8c8c8" stroke-width="0.25">1</text>
<text x="670.6" y="263.10" font-family="Liberation Sans" font-weight="bold" font-size="11.3" letter-spacing="0.9" text-anchor="end" fill="#ff0088" stroke="#ff0088" stroke-width="0.25">12</text>
<text x="670.6" y="275.17" font-family="Liberation Sans" font-weight="bold" font-size="11.3" letter-spacing="0.9" text-anchor="end" fill="#ff2200" stroke="#ff2200" stroke-width="0.25">11</text>
<text x="670.6" y="287.24" font-family="Liberation Sans" font-weight="bold" font-size="11.3" letter-spacing="0.9" text-anchor="end" fill="#ff8c00" stroke="#ff8c00" stroke-width="0.25">10</text>
<text x="670.6" y="299.31" font-family="Liberation Sans" font-weight="bold" font-size="11.3" letter-spacing="0.9" text-anchor="end" fill="#ffee00" stroke="#ffee00" stroke-width="0.25">9</text>
<text x="670.6" y="311.38" font-family="Liberation Sans" font-weight="bold" font-size="11.3" letter-spacing="0.9" text-anchor="end" fill="#99ff00" stroke="#99ff00" stroke-width="0.25">8</text>
<text x="670.6" y="323.45" font-family="Liberation Sans" font-weight="bold" font-size="11.3" letter-spacing="0.9" text-anchor="end" fill="#00ffdd" stroke="#00ffdd" stroke-width="0.25">7</text>
<text x="670.6" y="335.52" font-family="Liberation Sans" font-weight="bold" font-size="11.3" letter-spacing="0.9" text-anchor="end" fill="#1e80ff" stroke="#1e80ff" stroke-width="0.25">6</text>
<text x="670.6" y="347.59" font-family="Liberation Sans" font-weight="bold" font-size="11.3" letter-spacing="0.9" text-anchor="end" fill="#3300ff" stroke="#3300ff" stroke-width="0.25">5</text>
<text x="670.6" y="359.66" font-family="Liberation Sans" font-weight="bold" font-size="11.3" letter-spacing="0.9" text-anchor="end" fill="#ff00ff" stroke="#ff00ff" stroke-width="0.25">4</text>
<text x="670.6" y="371.73" font-family="Liberation Sans" font-weight="bold" font-size="11.3" letter-spacing="0.9" text-anchor="end" fill="#000000" stroke="#000000" stroke-width="0.25">3</text>
<text x="670.6" y="383.80" font-family="Liberation Sans" font-weight="bold" font-size="11.3" letter-spacing="0.9" text-anchor="end" fill="#444444" stroke="#444444" stroke-width="0.25">2</text>
<text x="670.6" y="395.87" font-family="Liberation Sans" font-weight="bold" font-size="11.3" letter-spacing="0.9" text-anchor="end" fill="#c8c8c8" stroke="#c8c8c8" stroke-width="0.25">1</text>
<text x="0" y="443.8" font-family="Liberation Sans" font-size="12.2" letter-spacing="0.5" stroke="#000" stroke-width="0.4" transform="translate(479.6,0) scale(0.862,1)">[Created at 2018-09-28 04:21UT]</text>
</svg></body></html>
